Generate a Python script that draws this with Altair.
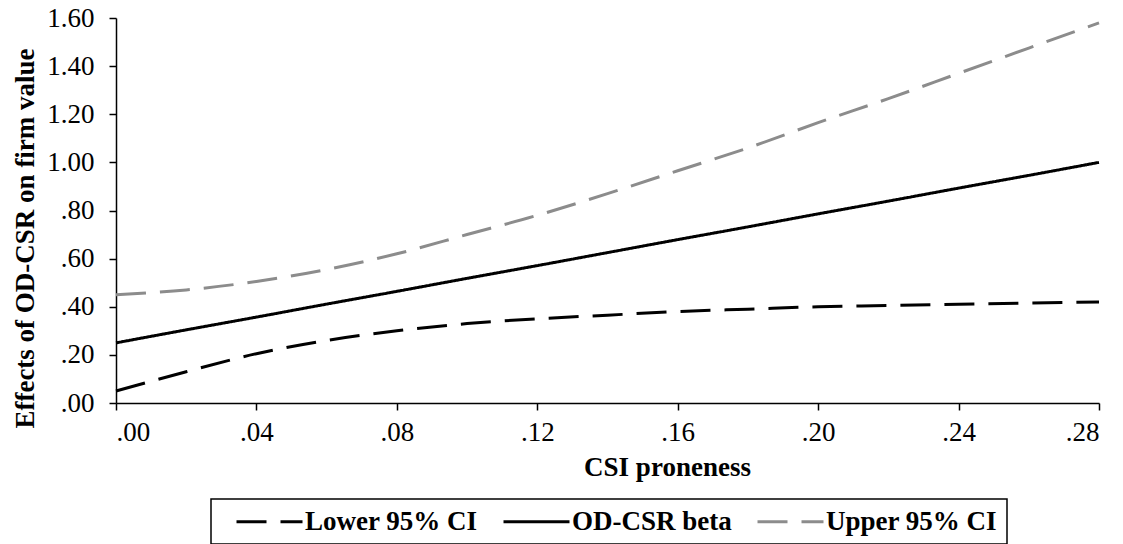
import altair as alt
import pandas as pd

x_vals = [0.00, 0.02, 0.04, 0.06, 0.08, 0.10, 0.12, 0.14, 0.16, 0.18, 0.20, 0.22, 0.24, 0.26, 0.28]
lower = [0.05, 0.13, 0.205, 0.26, 0.30, 0.33, 0.35, 0.365, 0.38, 0.39, 0.40, 0.405, 0.41, 0.415, 0.42]
beta = [0.25, 0.304, 0.357, 0.411, 0.464, 0.518, 0.571, 0.625, 0.679, 0.732, 0.786, 0.839, 0.893, 0.946, 1.00]
upper = [0.45, 0.47, 0.505, 0.555, 0.62, 0.70, 0.78, 0.87, 0.965, 1.06, 1.165, 1.265, 1.37, 1.475, 1.58]

series_names = ["Lower 95% CI", "OD-CSR beta", "Upper 95% CI"]
series_colors = ["#000000", "#000000", "#8c8c8c"]
series_dashes = [[30, 14], [1, 0], [30, 14]]

x_ticks = [0.00, 0.04, 0.08, 0.12, 0.16, 0.20, 0.24, 0.28]
y_ticks = [0.0, 0.2, 0.4, 0.6, 0.8, 1.0, 1.2, 1.4, 1.6]

rows = []
for name, vals in zip(series_names, [lower, beta, upper]):
    for xv, yv in zip(x_vals, vals):
        rows.append({"x": xv, "y": yv, "series": name})
df = pd.DataFrame(rows)

label_expr = "datum.value < 1 ? substring(format(datum.value, '.2f'), 1) : format(datum.value, '.2f')"
FONT = "Liberation Serif"
FS = 27

legend_kw = dict(title=None, orient="none", legendX=95, legendY=481,
                 direction="horizontal", columns=3)

chart = alt.Chart(df).mark_line(strokeWidth=3, interpolate="monotone").encode(
    x=alt.X("x:Q", scale=alt.Scale(domain=[0, 0.28], nice=False, zero=False),
            axis=alt.Axis(title="CSI proneness", values=x_ticks, labelExpr=label_expr,
                          labelPadding=9, titleX=551, titleY=72,
                          titleBaseline="alphabetic", titleAlign="center")),
    y=alt.Y("y:Q", scale=alt.Scale(domain=[0, 1.6], nice=False),
            axis=alt.Axis(title="Effects of OD-CSR on firm value", values=y_ticks,
                          labelExpr=label_expr, labelPadding=15, titleX=-83, titleY=220,
                          titleBaseline="alphabetic", titleAlign="center", titleAngle=270)),
    color=alt.Color("series:N", scale=alt.Scale(domain=series_names, range=series_colors),
                    legend=alt.Legend(**legend_kw)),
    strokeDash=alt.StrokeDash("series:N", scale=alt.Scale(domain=series_names, range=series_dashes),
                              legend=alt.Legend(**legend_kw)),
).properties(
    width=983, height=385,
    padding={"left": 116, "top": 18, "right": 24, "bottom": 141},
    autosize=alt.AutoSizeParams(type="none"),
).configure_view(stroke=None).configure_axis(
    grid=False, domainColor="black", domainWidth=1.5, tickColor="black", tickWidth=1.5,
    tickSize=7, labelFont=FONT, labelFontSize=FS, labelColor="black",
    titleFont=FONT, titleFontSize=FS, titleFontWeight="bold", titleColor="black",
).configure_legend(
    labelFont=FONT, labelFontSize=FS, labelFontWeight="bold", labelColor="black",
    symbolType="M-1,0H5", symbolStrokeWidth=3, symbolSize=484, symbolOffset=14,
    strokeColor="black", strokeWidth=1.5, padding=9, columnPadding=9, labelOffset=44,
    labelLimit=400,
)

chart.save("out.html", embed_options={"renderer": "svg", "actions": False})
